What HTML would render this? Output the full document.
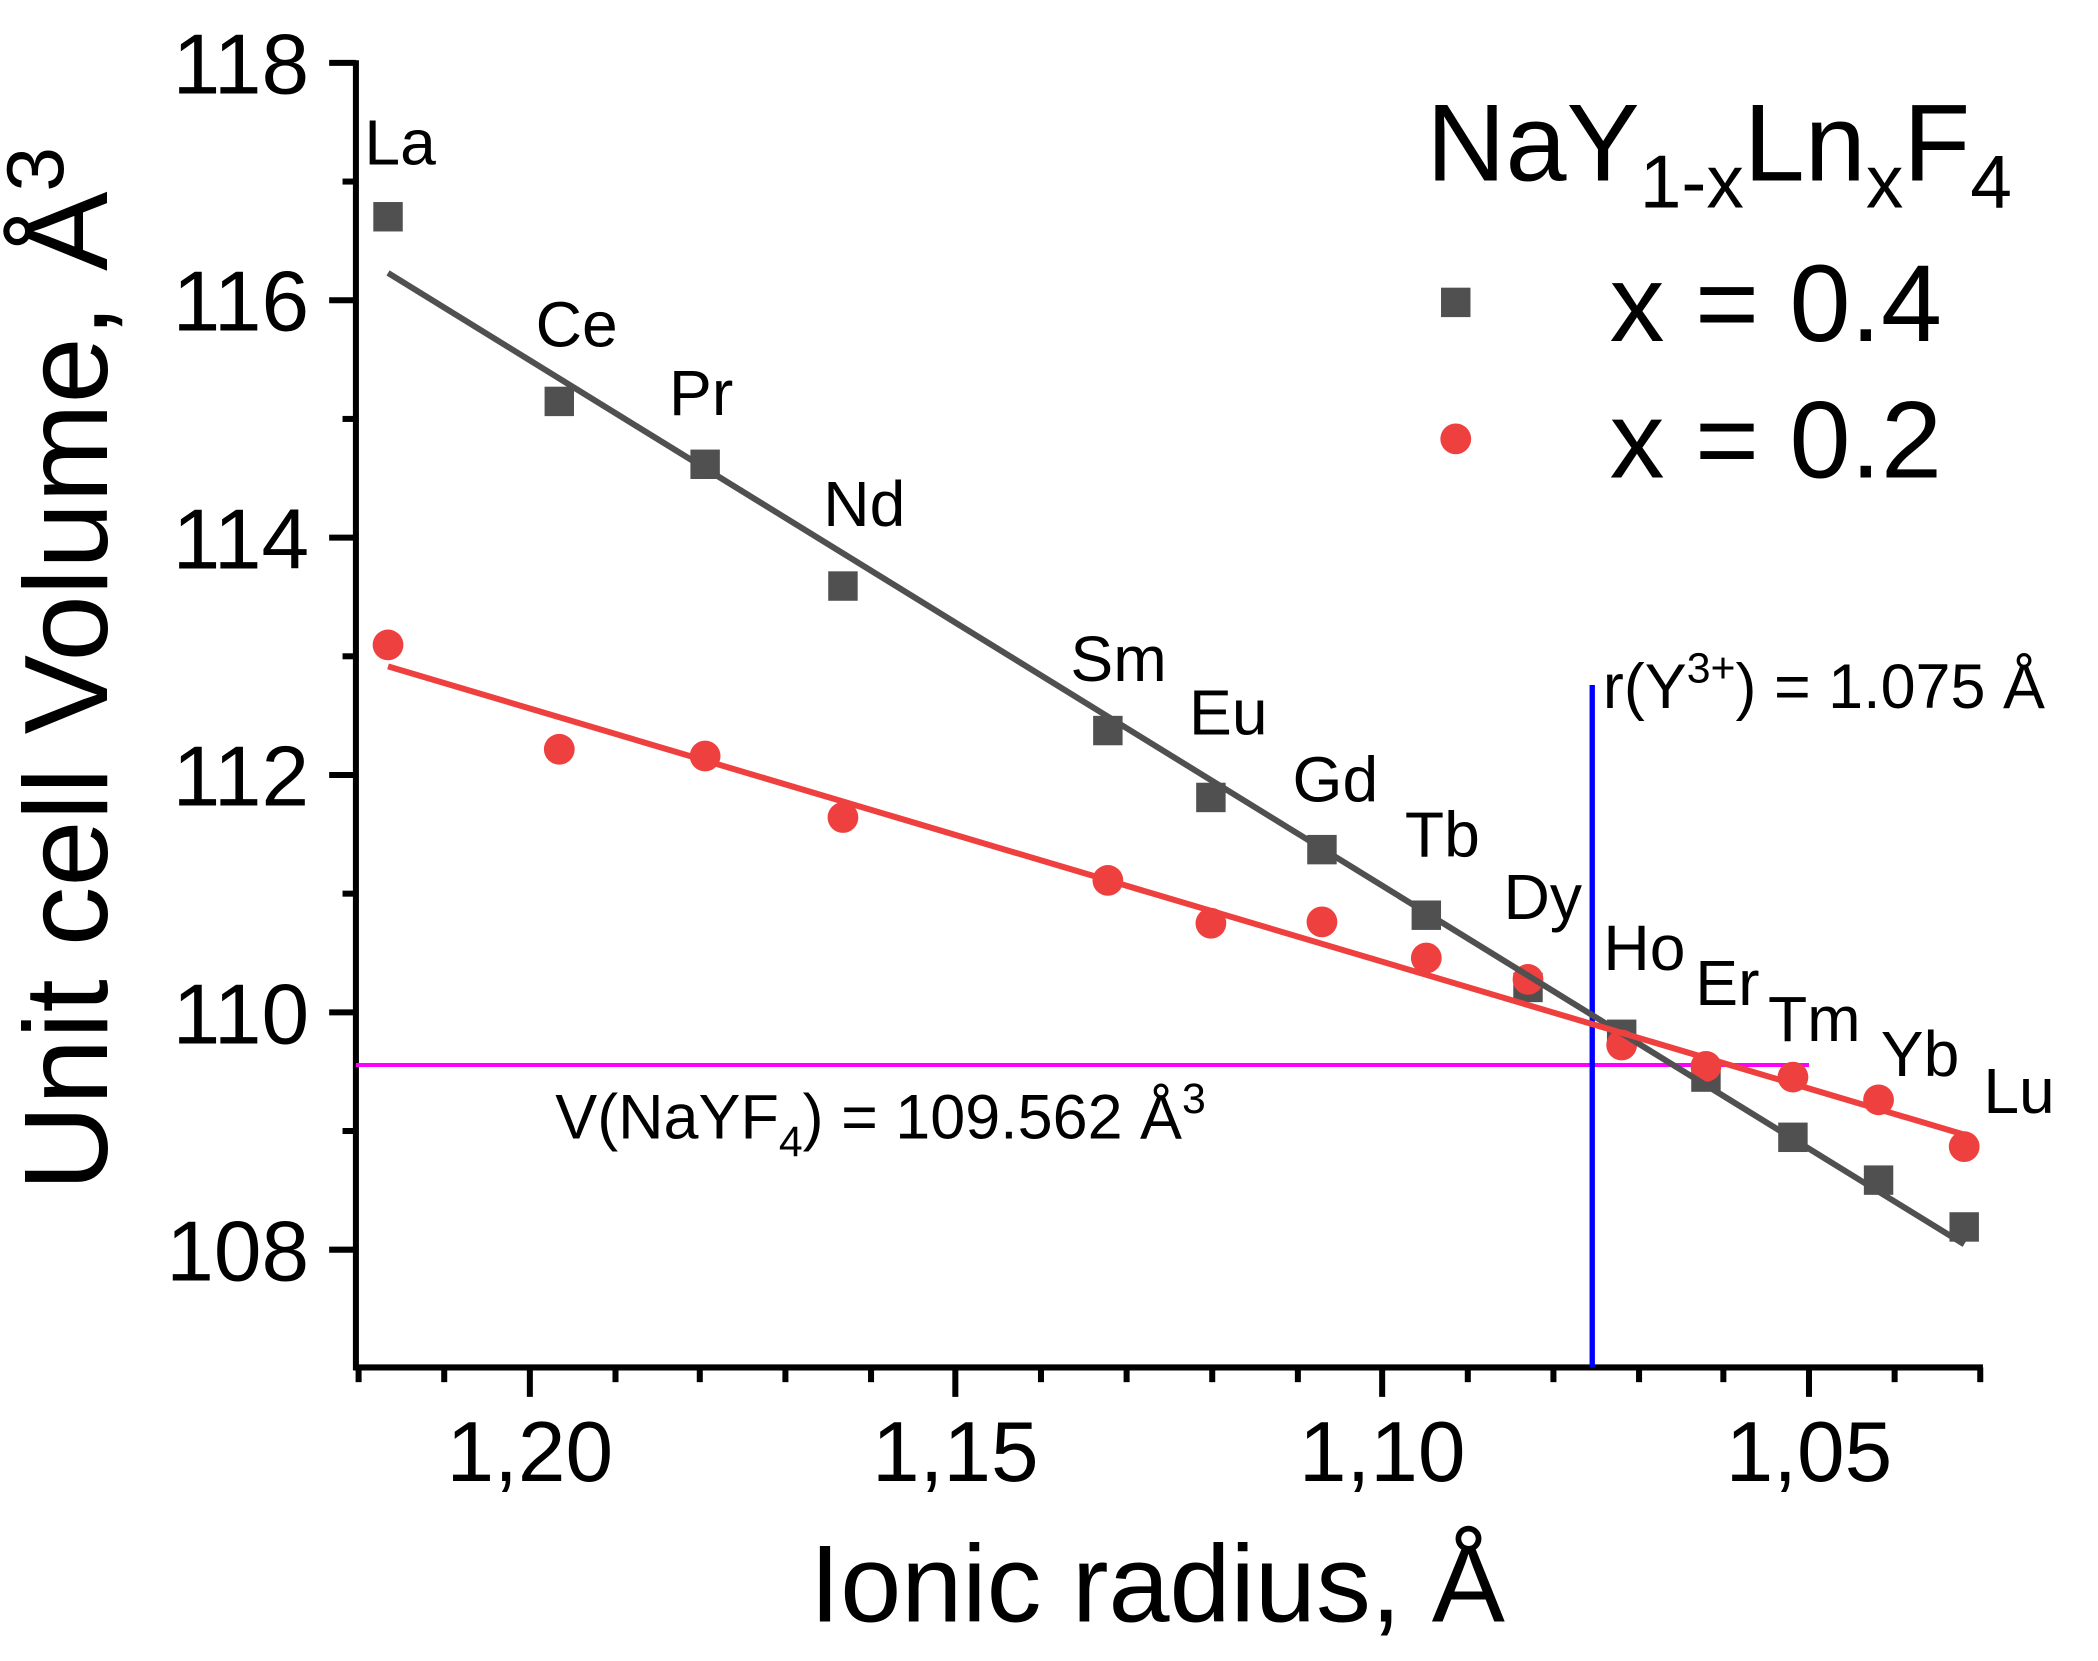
<!DOCTYPE html>
<html><head><meta charset="utf-8"><style>html,body{margin:0;padding:0;background:#fff}svg{display:block}</style></head>
<body>
<svg width="2098" height="1661" viewBox="0 0 1568 1241.4" xmlns="http://www.w3.org/2000/svg" font-family="Liberation Sans, Arial, sans-serif">
<rect width="1568" height="1241.4" fill="#fff"/>
<g stroke="#000" stroke-width="4.5" fill="none">
<line x1="266" y1="45" x2="266" y2="1024"/>
<line x1="264" y1="1022" x2="1482" y2="1022"/>
<line x1="246" y1="47" x2="266" y2="47"/>
<line x1="246" y1="224.4" x2="266" y2="224.4"/>
<line x1="246" y1="401.8" x2="266" y2="401.8"/>
<line x1="246" y1="579.2" x2="266" y2="579.2"/>
<line x1="246" y1="756.6" x2="266" y2="756.6"/>
<line x1="246" y1="934" x2="266" y2="934"/>
<line x1="256" y1="135.7" x2="266" y2="135.7"/>
<line x1="256" y1="313.1" x2="266" y2="313.1"/>
<line x1="256" y1="490.5" x2="266" y2="490.5"/>
<line x1="256" y1="667.9" x2="266" y2="667.9"/>
<line x1="256" y1="845.3" x2="266" y2="845.3"/>
<line x1="396" y1="1022" x2="396" y2="1044"/>
<line x1="714" y1="1022" x2="714" y2="1044"/>
<line x1="1033" y1="1022" x2="1033" y2="1044"/>
<line x1="1352" y1="1022" x2="1352" y2="1044"/>
<line x1="268" y1="1022" x2="268" y2="1033"/>
<line x1="332" y1="1022" x2="332" y2="1033"/>
<line x1="460" y1="1022" x2="460" y2="1033"/>
<line x1="523" y1="1022" x2="523" y2="1033"/>
<line x1="587" y1="1022" x2="587" y2="1033"/>
<line x1="651" y1="1022" x2="651" y2="1033"/>
<line x1="778" y1="1022" x2="778" y2="1033"/>
<line x1="842" y1="1022" x2="842" y2="1033"/>
<line x1="906" y1="1022" x2="906" y2="1033"/>
<line x1="970" y1="1022" x2="970" y2="1033"/>
<line x1="1097" y1="1022" x2="1097" y2="1033"/>
<line x1="1161" y1="1022" x2="1161" y2="1033"/>
<line x1="1225" y1="1022" x2="1225" y2="1033"/>
<line x1="1288" y1="1022" x2="1288" y2="1033"/>
<line x1="1416" y1="1022" x2="1416" y2="1033"/>
<line x1="1480" y1="1022" x2="1480" y2="1033"/>
</g>
<g font-size="64" text-anchor="end">
<text x="231" y="70">118</text>
<text x="231" y="247">116</text>
<text x="231" y="425">114</text>
<text x="231" y="602">112</text>
<text x="231" y="780">110</text>
<text x="231" y="957">108</text>
</g>
<g font-size="64" text-anchor="middle">
<text x="396" y="1107">1,20</text>
<text x="714" y="1107">1,15</text>
<text x="1033" y="1107">1,10</text>
<text x="1352" y="1107">1,05</text>
</g>
<text x="865" y="1212" font-size="82" text-anchor="middle">Ionic radius, Å</text>
<text transform="translate(80,500) rotate(-90)" font-size="89" text-anchor="middle">Unit cell Volume, Å<tspan font-size="60" dy="-33">3</tspan></text>
<line x1="266" y1="796" x2="1352" y2="796" stroke="#ff00ff" stroke-width="3"/>
<line x1="1190" y1="512" x2="1190" y2="1022" stroke="#0000ff" stroke-width="4"/>
<g fill="#505050">
<rect x="279" y="151" width="22" height="22"/><rect x="407" y="289" width="22" height="22"/>
<rect x="516" y="336" width="22" height="22"/><rect x="619" y="427" width="22" height="22"/>
<rect x="817" y="535" width="22" height="22"/><rect x="894" y="585" width="22" height="22"/>
<rect x="977" y="624" width="22" height="22"/><rect x="1055" y="673" width="22" height="22"/>
<rect x="1131" y="727" width="22" height="22"/><rect x="1201" y="762" width="22" height="22"/>
<rect x="1264" y="794" width="22" height="22"/><rect x="1329" y="839" width="22" height="22"/>
<rect x="1393" y="871" width="22" height="22"/><rect x="1457" y="906" width="22" height="22"/>
</g>
<g fill="#ef4040">
<circle cx="290" cy="482" r="11.5"/><circle cx="418" cy="560" r="11.5"/>
<circle cx="527" cy="565" r="11.5"/><circle cx="630" cy="611" r="11.5"/>
<circle cx="828" cy="658" r="11.5"/><circle cx="905" cy="690" r="11.5"/>
<circle cx="988" cy="689" r="11.5"/><circle cx="1066" cy="716" r="11.5"/>
<circle cx="1142" cy="732" r="11.5"/><circle cx="1212" cy="781" r="11.5"/>
<circle cx="1275" cy="797" r="11.5"/><circle cx="1340" cy="805" r="11.5"/>
<circle cx="1404" cy="822" r="11.5"/><circle cx="1468" cy="857" r="11.5"/>
</g>
<line x1="290" y1="204" x2="1468" y2="930" stroke="#505050" stroke-width="4.5"/>
<line x1="290" y1="498" x2="1468" y2="848" stroke="#ef4040" stroke-width="4.5"/>
<g font-size="48" text-anchor="middle">
<text x="299" y="123">La</text><text x="431" y="259">Ce</text>
<text x="524" y="310">Pr</text><text x="646" y="393">Nd</text>
<text x="836" y="509">Sm</text><text x="918" y="549">Eu</text>
<text x="998" y="599">Gd</text><text x="1078" y="640">Tb</text>
<text x="1153" y="687">Dy</text><text x="1229" y="725">Ho</text>
<text x="1291" y="751">Er</text><text x="1356" y="778">Tm</text>
<text x="1435" y="804">Yb</text><text x="1509" y="832">Lu</text>
</g>
<text x="1198" y="529" font-size="47">r(Y<tspan font-size="32" dy="-19">3+</tspan><tspan dy="19">) = 1.075 Å</tspan></text>
<text x="415" y="851" font-size="47">V(NaYF<tspan font-size="32" dy="13">4</tspan><tspan dy="-13">) = 109.562 Å</tspan><tspan font-size="32" dy="-19">3</tspan></text>
<text x="1066" y="135" font-size="82">NaY<tspan font-size="56" dy="20">1-x</tspan><tspan dy="-20">Ln</tspan><tspan font-size="56" dy="20">x</tspan><tspan dy="-20">F</tspan><tspan font-size="56" dy="20">4</tspan></text>
<rect x="1077" y="215" width="22" height="22" fill="#505050"/>
<circle cx="1088" cy="328" r="11.5" fill="#ef4040"/>
<text x="1203" y="255" font-size="82">x = 0.4</text>
<text x="1203" y="357" font-size="82">x = 0.2</text>
</svg>
</body></html>
